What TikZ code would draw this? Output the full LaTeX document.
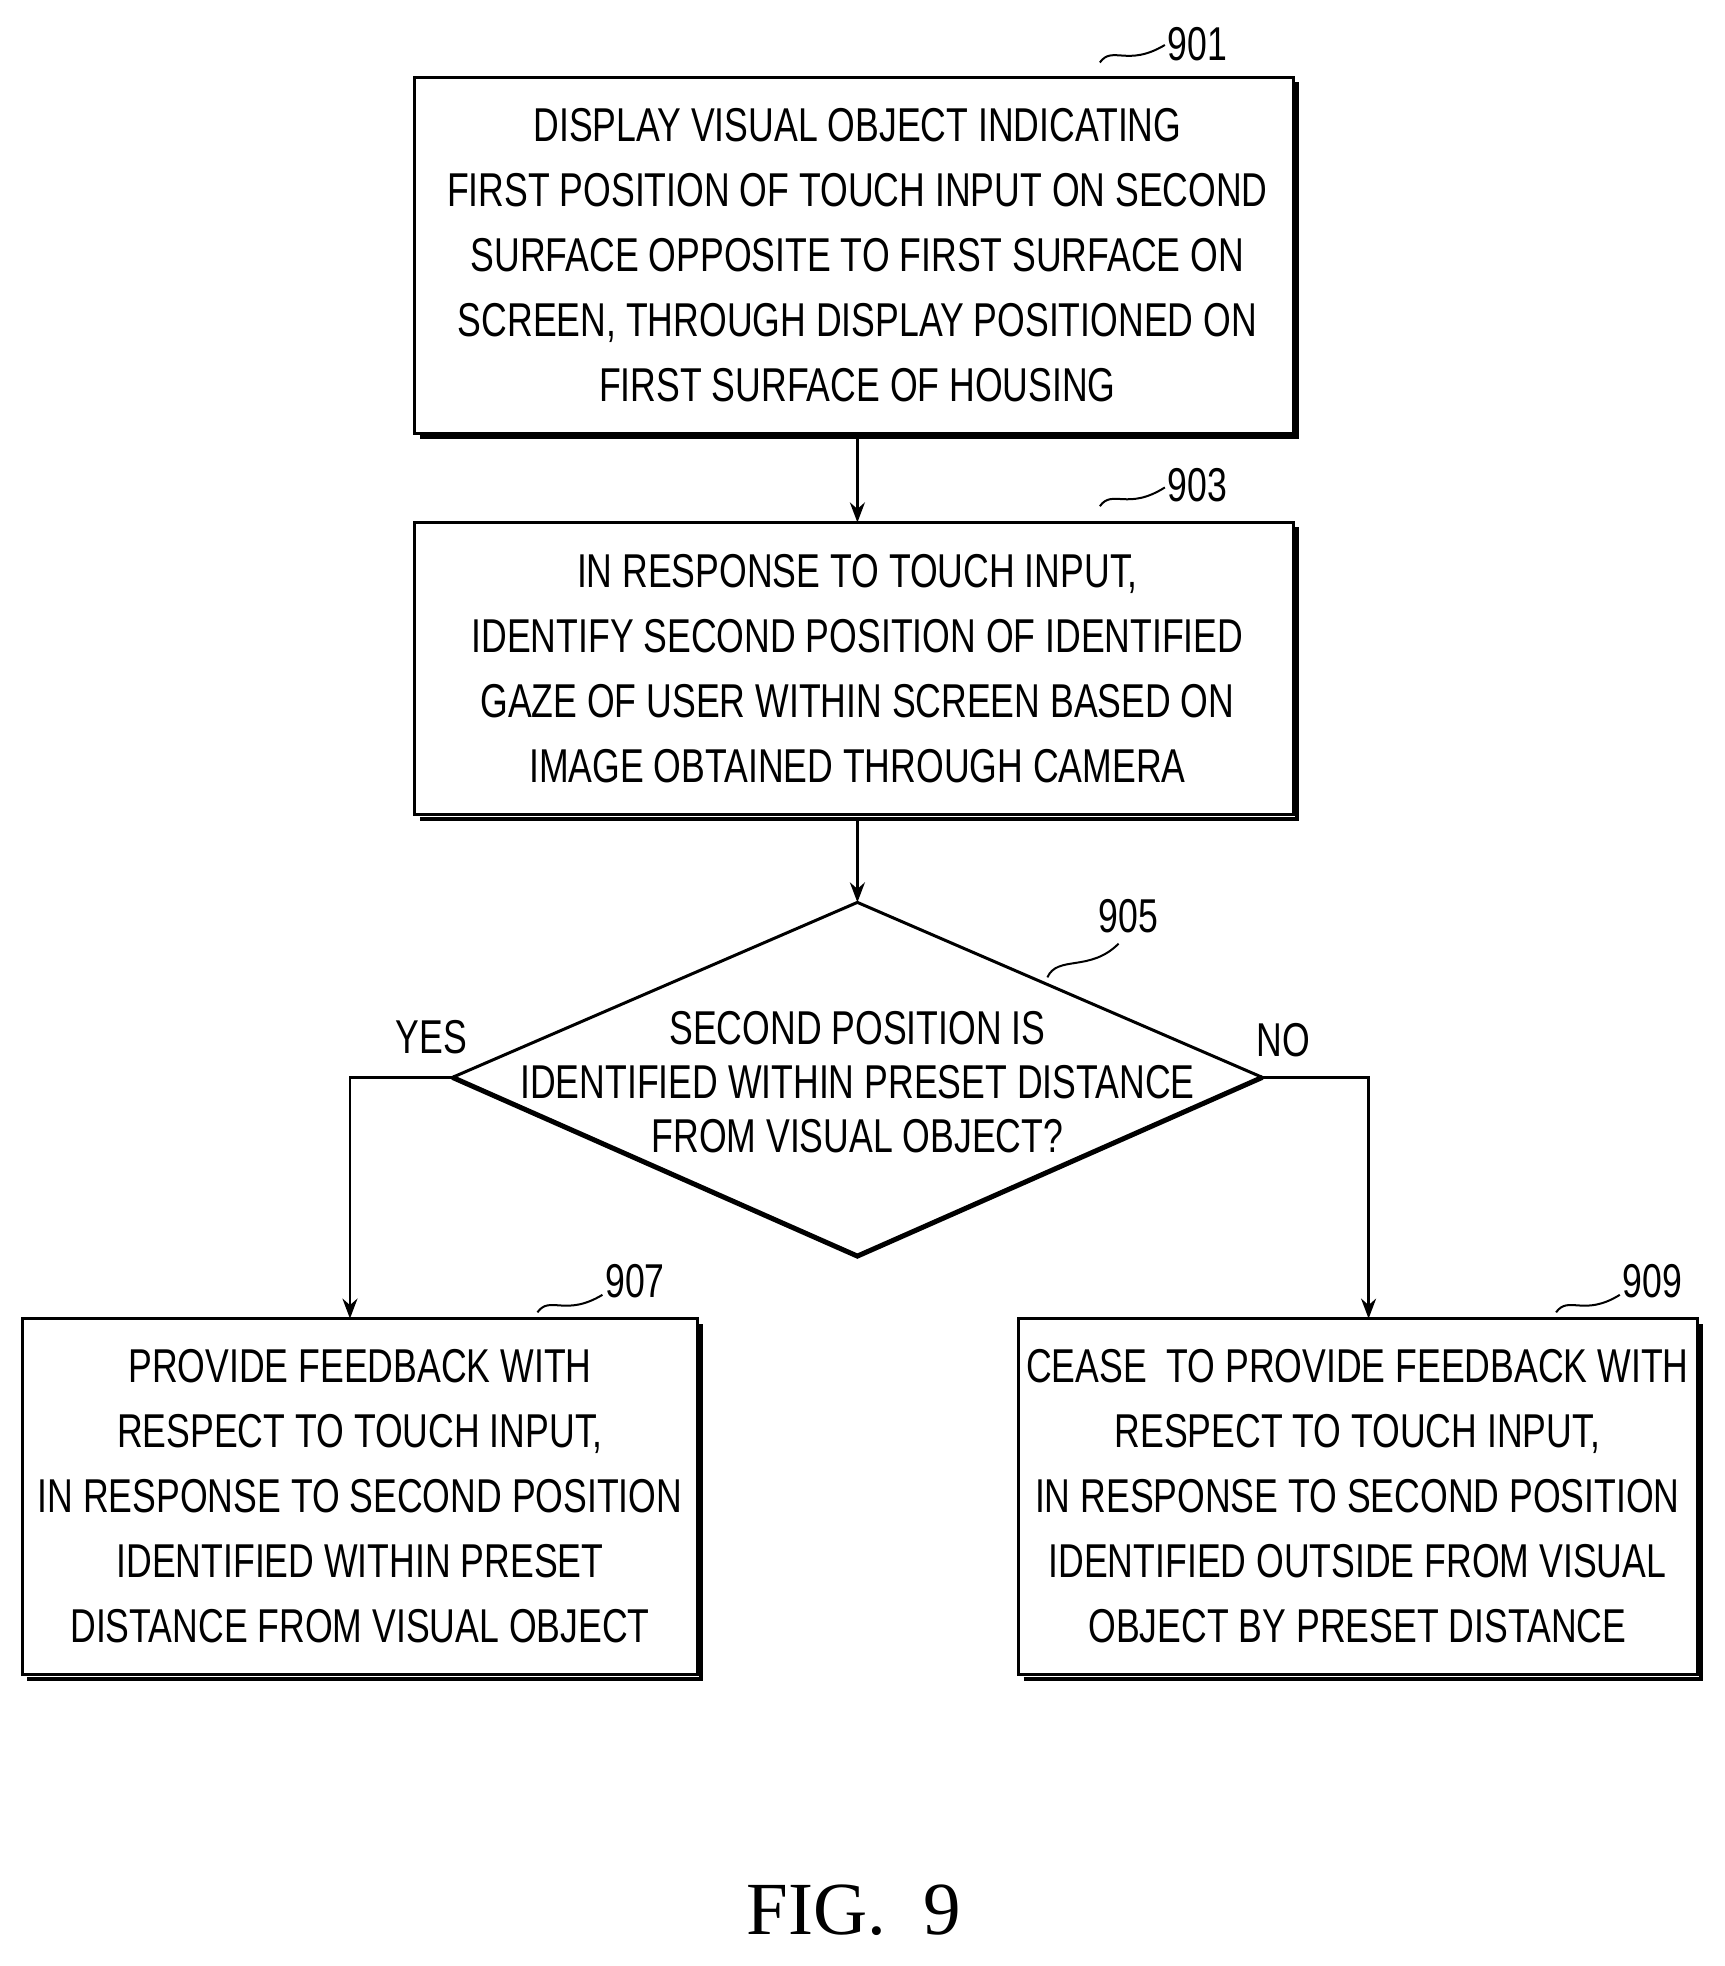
\documentclass[tikz,border=0pt]{standalone}
\usepackage{fontspec}
\setmainfont[FakeStretch=0.75]{Liberation Sans}
\newfontfamily\figfont{Liberation Serif}
\usetikzlibrary{shapes.geometric,arrows.meta}
\begin{document}
\begin{tikzpicture}[x=0.5pt,y=-0.5pt,
  txt/.style={align=center,font=\fontsize{19}{26}\selectfont},
  arr/.style={-{Stealth[length=8pt,width=6pt]},line width=1pt},
  sq/.style={line width=0.8pt},
  lab/.style={font=\fontsize{19}{22}\selectfont}]
\useasboundingbox (0,0) rectangle (1380,1573);
\newcommand{\shbox}[5]{%
  \draw[line width=1.2pt] (#1,#2) rectangle (#3,#4);
  \draw[line width=1.6pt] (#1+4,#4+3) -- (#3+3,#4+3) -- (#3+3,#2+4);
  \node[txt] (#5) at ({(#1+#3)/2},{(#2+#4)/2}) {};}
\shbox{332}{62}{1035}{347}{b1}
\node[txt] at (686,204) {DISPLAY VISUAL OBJECT INDICATING\\FIRST POSITION OF TOUCH INPUT ON SECOND\\SURFACE OPPOSITE TO FIRST SURFACE ON\\SCREEN, THROUGH DISPLAY POSITIONED ON\\FIRST SURFACE OF HOUSING};
\shbox{332}{418}{1035}{652}{b3}
\node[txt] at (686,535) {IN RESPONSE TO TOUCH INPUT,\\IDENTIFY SECOND POSITION OF IDENTIFIED\\GAZE OF USER WITHIN SCREEN BASED ON\\IMAGE OBTAINED THROUGH CAMERA};
\shbox{18}{1055}{558}{1340}{b7}
\node[txt] at (288,1197) {PROVIDE FEEDBACK WITH\\RESPECT TO TOUCH INPUT,\\IN RESPONSE TO SECOND POSITION\\IDENTIFIED WITHIN PRESET\\DISTANCE FROM VISUAL OBJECT};
\shbox{815}{1055}{1358}{1340}{b9}
\node[txt] at (1086,1197) {CEASE\ \ TO PROVIDE FEEDBACK WITH\\RESPECT TO TOUCH INPUT,\\IN RESPONSE TO SECOND POSITION\\IDENTIFIED OUTSIDE FROM VISUAL\\OBJECT BY PRESET DISTANCE};
\coordinate (dt) at (686,722);
\coordinate (db) at (686,1005);
\coordinate (dl) at (362,862);
\coordinate (dr) at (1010,862);
\draw[line width=1.2pt] (dt) -- (dr) -- (db) -- (dl) -- cycle;
\draw[line width=2pt] (dl) -- (db) -- (dr);
\node[align=center,font=\fontsize{19}{21.5}\selectfont] (d5) at (686,866) {SECOND POSITION IS\\IDENTIFIED WITHIN PRESET DISTANCE\\FROM VISUAL OBJECT?};
\coordinate (b1b) at (686,350);
\coordinate (b3t) at (686,418);
\coordinate (b3b) at (686,655);
\draw[arr] (b1b) -- (b3t);
\draw[arr] (b3b) -- (dt);
\coordinate (b7t) at (280,1055);
\coordinate (b9t) at (1095,1055);
\draw[arr] (dl) -- (280,862) -- (b7t);
\draw[arr] (dr) -- (1095,862) -- (b9t);
\node[lab] (yes) at (345,830) {YES};
\node[lab] (no) at (1027,832) {NO};
\node[lab] (n1) at (958,35) {901};
\draw[sq] (880,50) .. controls (890,36) and (902,54) .. (932,36);
\node[lab] (n3) at (958,388) {903};
\draw[sq] (880,405) .. controls (890,391) and (902,409) .. (932,390);
\node[lab] (n5) at (903,733) {905};
\draw[sq] (838,782) .. controls (846,764) and (872,778) .. (895,755);
\node[lab] (n7) at (508,1025) {907};
\draw[sq] (430,1050) .. controls (440,1036) and (452,1054) .. (482,1036);
\node[lab] (n9) at (1322,1025) {909};
\draw[sq] (1245,1050) .. controls (1255,1036) and (1267,1054) .. (1296,1036);
\node[font=\figfont\fontsize{30}{32}\selectfont] (fig) at (683,1528) {FIG.\ \ 9};
\end{tikzpicture}
\end{document}
